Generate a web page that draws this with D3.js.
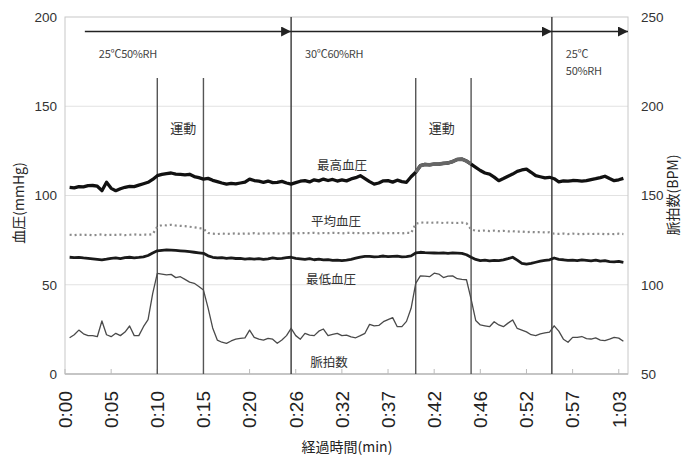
<!DOCTYPE html>
<html><head><meta charset="utf-8">
<script src="https://cdn.jsdelivr.net/npm/d3@7"></script>
<style>body{margin:0;background:#fff}svg{display:block}</style>
</head><body><svg id="c" width="691" height="455"></svg>
<script>
// ---- data ----
const tickLabels = ["0:00","0:05","0:10","0:15","0:20","0:26","0:32","0:37","0:42","0:46","0:52","0:57","1:03"];
const tickIndex = [0,10,20,30,40,50,60,70,80,90,100,110,120];
const firstSample = 1; // samples indexed 1..121

const sbp = [104.6,104.3,105.0,104.8,105.5, 105.6,105.2,102.7,107.4,104.0,
  102.7,103.8,104.6,105.1,105.0, 105.8,106.6,107.4,109.0,111.1,
  111.8,112.3,112.6,112.0,111.8, 111.5,111.9,110.6,110.0,109.2,
  109.6,108.5,107.8,107.0,106.4, 106.8,106.5,107.0,107.5,109.2,
  108.4,108.0,107.4,108.1,107.2, 107.4,107.9,107.0,106.4,107.2,
  108.0,108.3,107.6,108.8,108.2, 109.2,108.4,109.0,108.1,108.7,
  108.2,109.3,110.0,111.1,109.5, 107.8,106.4,107.0,108.2,108.3,
  107.5,108.6,107.8,107.4,110.5, 113.0,116.7,117.4,117.2,117.6,
  117.6,118.0,118.2,119.0,120.2, 120.4,119.3,117.6,115.8,114.0,
  112.6,112.0,110.3,108.3,109.5, 110.8,112.0,113.5,114.3,114.8,
  113.0,111.1,110.5,109.9,110.2, 109.4,107.7,108.2,108.0,108.4,
  108.3,108.1,108.3,108.9,109.4, 110.0,110.8,109.5,108.3,108.8,109.6];

const mbp = [78.0,77.8,78.1,77.9,78.0, 77.7,77.9,78.2,77.8,78.0,
  77.9,78.1,77.8,78.0,78.2, 77.9,78.1,78.0,78.3,82.5,
  83.4,83.3,83.6,83.2,83.0, 82.8,82.5,82.2,81.8,81.3,
  79.0,78.6,78.4,78.7,78.5, 78.6,78.8,78.5,78.7,78.6,
  78.9,78.6,78.8,78.7,78.9, 78.6,78.8,78.9,78.7,79.0,
  78.8,79.0,78.9,79.1,78.8, 79.0,78.9,79.1,79.0,78.8,
  79.0,79.1,78.9,79.0,78.8, 79.0,78.9,79.1,78.8,79.0,
  78.9,79.0,78.8,79.1,79.0, 84.2,84.8,84.9,84.7,84.8,
  84.9,84.6,84.8,84.7,84.6, 84.8,84.5,81.0,80.3,80.2,
  80.4,80.1,80.3,80.0,80.2, 79.9,80.0,79.7,79.8,79.5,
  79.6,79.4,79.5,79.3,79.4, 78.6,78.5,78.7,78.4,78.6,
  78.5,78.3,78.6,78.4,78.5, 78.6,78.3,78.5,78.4,78.6,78.4];

const dbp = [65.4,65.2,65.3,65.0,64.8, 64.5,64.2,63.9,64.3,64.8,
  65.0,64.6,65.2,65.4,65.1, 65.3,65.6,66.4,67.8,69.0,
  69.3,69.5,69.4,69.2,69.0, 68.8,68.5,68.2,67.9,67.6,
  66.2,65.4,65.0,65.2,64.8, 65.0,64.7,64.8,64.4,64.6,
  64.3,64.6,64.2,64.5,65.0, 64.6,64.8,65.2,65.4,64.8,
  64.5,64.2,64.6,64.0,64.3, 63.9,64.1,63.7,63.8,63.5,
  63.8,64.2,64.9,65.5,65.9, 65.9,65.6,65.8,66.1,65.7,
  65.9,66.0,65.6,65.8,66.2, 67.8,68.2,68.0,67.9,67.8,
  67.7,67.8,67.6,67.8,67.7, 67.6,66.8,65.4,64.2,63.5,
  63.8,63.4,63.7,63.5,63.9, 64.6,65.4,63.8,62.0,61.6,
  62.0,62.6,63.2,63.6,64.0, 65.0,64.2,64.0,63.6,63.8,
  63.5,63.9,63.7,63.4,63.8, 63.2,63.5,63.0,62.8,63.1,62.6];

const pulse = [70.3,72.0,74.6,72.5,71.5, 71.5,70.9,79.7,72.0,70.9,
  72.8,71.5,73.5,76.9,71.5, 71.5,76.5,80.5,95.0,106.4,
  106.0,105.5,105.8,104.0,104.5, 103.0,101.5,100.8,99.0,97.0,
  87.0,75.8,69.0,67.8,67.2, 68.5,69.5,70.0,70.2,74.6,
  70.5,69.5,69.0,70.0,69.5, 67.2,69.0,71.5,75.6,71.5,
  69.5,72.8,71.8,71.5,74.0, 75.2,71.5,72.2,72.8,71.5,
  71.8,70.8,70.3,71.5,72.8, 77.8,77.0,77.2,79.3,80.5,
  81.6,76.5,76.5,79.5,86.8, 100.8,105.0,104.8,104.5,106.5,
  106.0,104.0,104.8,105.0,103.4, 103.0,102.8,92.0,80.0,77.5,
  77.0,76.5,79.3,77.5,76.5, 78.5,80.3,75.5,74.6,73.6,
  72.0,71.5,72.5,73.0,73.4, 77.0,74.0,69.5,67.8,70.5,
  70.5,71.0,69.8,69.6,70.2, 69.0,68.7,69.5,70.5,70.1,68.3];

const exerciseMarks = [20, 30, 76, 88];
const exerciseLabel = "運動";
const phaseStarts = [4.3, 49, 105.5];
const phaseEnds = [49, 105.5, 122];
const phaseLabels = [["25℃50%RH"], ["30℃60%RH"], ["25℃", "50%RH"]];
const seriesNames = ["最高血圧", "平均血圧", "最低血圧", "脈拍数"];
const leftTicks = [0, 50, 100, 150, 200];
const rightTicks = [50, 100, 150, 200, 250];
const leftTitle = "血圧(mmHg)";
const rightTitle = "脈拍数(BPM)";
const xTitle = "経過時間(min)";

// ---- drawing ----
const JP = "'Noto Sans CJK JP', 'Noto Sans', sans-serif";
const NUM = "'Liberation Sans', Arial, sans-serif";
const svg = d3.select("#c");
const x = d3.scaleLinear().domain([0, 122]).range([65, 628]);
const yL = d3.scaleLinear().domain([0, 200]).range([374, 17]);
const yR = d3.scaleLinear().domain([50, 250]).range([374, 17]);

// gridlines
svg.append("g").selectAll("line").data([50, 100, 150]).join("line")
  .attr("x1", x(0)).attr("x2", x(122))
  .attr("y1", d => yL(d)).attr("y2", d => yL(d))
  .attr("stroke", "#e2e2e2").attr("stroke-width", 1.2);

// plot border
svg.append("rect").attr("x", x(0)).attr("y", yL(200))
  .attr("width", x(122) - x(0)).attr("height", yL(0) - yL(200))
  .attr("fill", "none").attr("stroke", "#c8c8c8").attr("stroke-width", 1);
svg.append("line").attr("x1", x(0)).attr("x2", x(122))
  .attr("y1", yL(0)).attr("y2", yL(0)).attr("stroke", "#bbb").attr("stroke-width", 1.5);

// minor ticks
svg.append("g").selectAll("line").data(tickIndex).join("line")
  .attr("x1", d => x(d)).attr("x2", d => x(d))
  .attr("y1", yL(0)).attr("y2", yL(0) - 5)
  .attr("stroke", "#bbb").attr("stroke-width", 1);

// left axis labels
svg.append("g").selectAll("text").data(leftTicks).join("text")
  .attr("x", 57).attr("y", d => yL(d)).attr("dy", "0.36em")
  .attr("text-anchor", "end").attr("font-family", NUM).attr("font-size", 13.5)
  .attr("fill", "#333").text(d => d);
// right axis labels
svg.append("g").selectAll("text").data(rightTicks).join("text")
  .attr("x", 641).attr("y", d => yR(d)).attr("dy", "0.36em")
  .attr("text-anchor", "start").attr("font-family", NUM).attr("font-size", 13.5)
  .attr("fill", "#333").text(d => d);
// x tick labels
svg.append("g").selectAll("text").data(tickIndex).join("text")
  .attr("transform", d => `translate(${x(d)},391) rotate(-90)`)
  .attr("dy", "0.36em").attr("text-anchor", "end")
  .attr("font-family", NUM).attr("font-size", 19).attr("fill", "#222")
  .text((d, i) => tickLabels[i]);

// axis titles
svg.append("text").attr("transform", "translate(19,203) rotate(-90)")
  .attr("text-anchor", "middle").attr("dy", "0.35em")
  .attr("font-family", JP).attr("font-size", 14).attr("fill", "#222").text(leftTitle);
svg.append("text").attr("transform", "translate(673,195) rotate(-90)")
  .attr("text-anchor", "middle").attr("dy", "0.35em")
  .attr("font-family", JP).attr("font-size", 14).attr("fill", "#222").text(rightTitle);
svg.append("text").attr("x", 347).attr("y", 447).attr("dy", "0.35em")
  .attr("text-anchor", "middle").attr("font-family", JP).attr("font-size", 14)
  .attr("fill", "#222").text(xTitle);

// vertical marker lines
svg.append("g").selectAll("line").data(exerciseMarks).join("line")
  .attr("x1", d => x(d)).attr("x2", d => x(d))
  .attr("y1", 78).attr("y2", yL(0))
  .attr("stroke", "#555").attr("stroke-width", 1.4);
svg.append("g").selectAll("line").data(phaseStarts.slice(1)).join("line")
  .attr("x1", d => x(d)).attr("x2", d => x(d))
  .attr("y1", yL(200)).attr("y2", yL(0))
  .attr("stroke", "#444").attr("stroke-width", 1.5);

// phase arrows
const defs = svg.append("defs");
defs.append("marker").attr("id", "ah").attr("viewBox", "0 0 10 10")
  .attr("refX", 10).attr("refY", 5).attr("markerWidth", 10).attr("markerHeight", 10)
  .attr("markerUnits", "userSpaceOnUse").attr("orient", "auto")
  .append("path").attr("d", "M0,0L10,5L0,10Z").attr("fill", "#222");
const arrowY = 31.5;
svg.append("g").selectAll("line").data(phaseStarts).join("line")
  .attr("x1", d => x(d)).attr("x2", (d, i) => x(phaseEnds[i]))
  .attr("y1", arrowY).attr("y2", arrowY)
  .attr("stroke", "#222").attr("stroke-width", 1.4).attr("marker-end", "url(#ah)");
phaseStarts.forEach((s, i) => {
  phaseLabels[i].forEach((t, j) => {
    svg.append("text").attr("x", x(s) + 14).attr("y", 54 + j * 17).attr("dy", "0.35em")
      .attr("font-family", JP).attr("font-size", 11).attr("fill", "#444")
      .attr("letter-spacing", "-0.3").text(t);
  });
});

// exercise labels
[[exerciseMarks[0], exerciseMarks[1]], [exerciseMarks[2], exerciseMarks[3]]].forEach(p => {
  svg.append("text").attr("x", x(p[0]) + 13).attr("y", 128).attr("dy", "0.35em")
    .attr("font-family", JP).attr("font-size", 13).attr("fill", "#333").text(exerciseLabel);
});

// series
const idx = (d, i) => x(i + firstSample);
const lineL = d3.line().x(idx).y(d => yL(d));
const lineR = d3.line().x(idx).y(d => yR(d));
svg.append("path").datum(pulse).attr("d", lineR).attr("fill", "none")
  .attr("stroke", "#4a4a4a").attr("stroke-width", 1.3).attr("stroke-linejoin", "round");
svg.append("path").datum(mbp).attr("d", lineL).attr("fill", "none")
  .attr("stroke", "#8a8a8a").attr("stroke-width", 2.2).attr("stroke-dasharray", "2,3");
svg.append("path").datum(dbp).attr("d", lineL).attr("fill", "none")
  .attr("stroke", "#1a1a1a").attr("stroke-width", 2.8).attr("stroke-linejoin", "round");
svg.append("path").datum(sbp).attr("d", lineL).attr("fill", "none")
  .attr("stroke", "#111").attr("stroke-width", 3.3).attr("stroke-linejoin", "round");
// highlighted exercise segment of sbp
const seg = d3.line().defined((d, i) => i + firstSample >= exerciseMarks[2] && i + firstSample <= exerciseMarks[3])
  .x(idx).y(d => yL(d));
svg.append("path").datum(sbp).attr("d", seg).attr("fill", "none")
  .attr("stroke", "#666").attr("stroke-width", 3.6).attr("stroke-linejoin", "round");

// series labels
const seriesLabelPos = [[342, 166], [336, 222], [331, 280], [329, 363]];
svg.append("g").selectAll("text").data(seriesNames).join("text")
  .attr("x", (d, i) => seriesLabelPos[i][0]).attr("y", (d, i) => seriesLabelPos[i][1])
  .attr("dy", "0.35em").attr("text-anchor", "middle")
  .attr("font-family", JP).attr("font-size", 12.5).attr("fill", "#333").text(d => d);
</script></body></html>
